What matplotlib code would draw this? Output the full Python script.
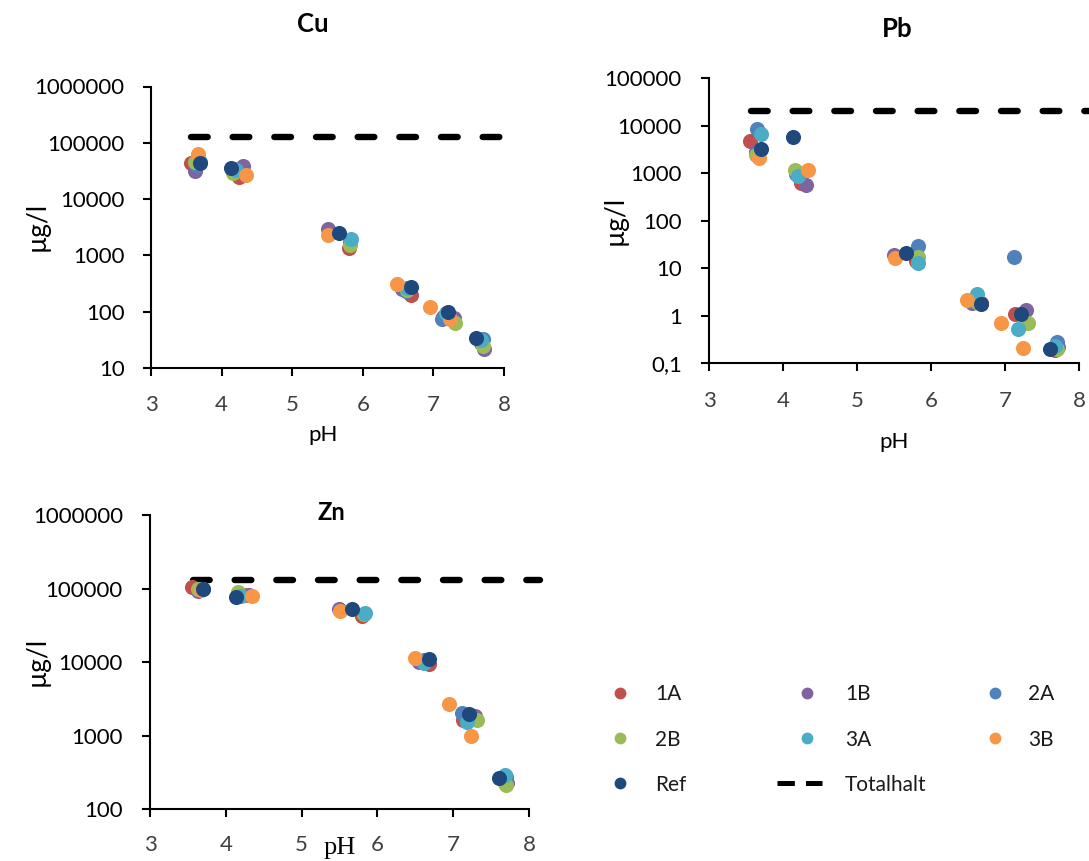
import matplotlib
matplotlib.use("Agg")
import matplotlib.pyplot as plt
from matplotlib.ticker import FixedLocator, FuncFormatter, NullLocator
from matplotlib.lines import Line2D

plt.rcParams["font.family"] = ["Lato", "DejaVu Sans"]
plt.rcParams["lines.scale_dashes"] = False

# ---- data -------------------------------------------------------------
series = ["1A", "1B", "2A", "2B", "3A", "3B", "Ref"]
colors = ["#C0504D", "#8064A2", "#4F81BD", "#9BBB59", "#4BACC6", "#F79646", "#1F497D"]

ph = {
    "1A": [3.56, 4.24, 5.80, 6.68, 7.13, 7.68],
    "1B": [3.63, 4.31, 5.50, 6.55, 7.29, 7.71],
    "2A": [3.65, 4.18, 5.82, 6.61, 7.12, 7.70],
    "2B": [3.63, 4.16, 5.82, 6.62, 7.31, 7.70],
    "3A": [3.70, 4.20, 5.83, 6.62, 7.18, 7.68],
    "3B": [3.67, 4.34, 5.51, 6.49, 6.95, 7.24],
    "Ref": [3.70, 4.14, 5.66, 6.68, 7.21, 7.61],
}

cu = {
    "1A": [43000, 24300, 1350, 197, 80, 28],
    "1B": [32000, 38500, 2930, 253, 76, 21.5],
    "2A": [40000, 34000, 1700, 232, 74, 33],
    "2B": [46000, 28600, 1510, 240, 64, 24.6],
    "3A": [45000, 33000, 1950, 260, 96, 31],
    "3B": [63000, 26700, 2290, 305, 122, 73],
    "Ref": [43000, 36000, 2460, 276, 100, 33.6],
}

pb = {
    "1A": [4830, 630, 14.4, 1.82, 1.07, 0.19],
    "1B": [2870, 570, 19.4, 1.9, 1.31, 0.22],
    "2A": [8500, 970, 29, 2.0, 17, 0.275],
    "2B": [2450, 1180, 17.4, 2.0, 0.69, 0.2],
    "3A": [6760, 895, 13, 2.86, 0.52, 0.23],
    "3B": [2090, 1180, 16.6, 2.14, 0.69, 0.21],
    "Ref": [3220, 5770, 21.4, 1.76, 1.07, 0.197],
}

zn = {
    "1A": [106000, 82000, 42500, 9400, 1650, 230],
    "1B": [94000, 83000, 53000, 10000, 1830, 225],
    "2A": [100000, 80000, 45000, 10700, 2040, 277],
    "2B": [100000, 91000, 45000, 10000, 1630, 213],
    "3A": [100000, 80000, 46200, 9660, 1520, 293],
    "3B": [96000, 79500, 50300, 11300, 2700, 1000],
    "Ref": [98000, 77000, 52900, 11000, 2000, 263],
}

# total content (Totalhalt) per metal, drawn across the pH range
total_ph = [3.57, 8.14]
total_cu = [128000, 128000]
total_pb = [20500, 20500]
total_zn = [130000, 130000]

cu_ticks = [10, 100, 1000, 10000, 100000, 1000000]
pb_ticks = [0.1, 1, 10, 100, 1000, 10000, 100000]
zn_ticks = [100, 1000, 10000, 100000, 1000000]
ph_ticks = [3, 4, 5, 6, 7, 8]

# ---- figure -----------------------------------------------------------
W, H = 1089, 861
fig = plt.figure(figsize=(W / 100, H / 100), dpi=100)


def rect(l, t, r, b):
    return [l / W, 1 - b / H, (r - l) / W, (b - t) / H]


def fmt_num(v, _pos=None):
    if v >= 1:
        return f"{int(round(v))}"
    return f"{v:g}".replace(".", ",")


def style_axes(ax, yticks, xpad, ypad):
    ax.set_yscale("log")
    ax.set_xlim(3, 8)
    ax.set_ylim(yticks[0], yticks[-1])
    ax.xaxis.set_major_locator(FixedLocator(ph_ticks))
    ax.yaxis.set_major_locator(FixedLocator(yticks))
    ax.yaxis.set_minor_locator(NullLocator())
    ax.xaxis.set_minor_locator(NullLocator())
    ax.yaxis.set_major_formatter(FuncFormatter(fmt_num))
    for s in ("top", "right"):
        ax.spines[s].set_visible(False)
    for s in ("left", "bottom"):
        ax.spines[s].set_linewidth(1.5)
        ax.spines[s].set_color("black")
    ax.tick_params(axis="both", direction="out", length=6, width=1.5, color="black")
    ax.tick_params(axis="x", labelsize=16, labelcolor="#404040", pad=xpad)
    ax.tick_params(axis="y", labelsize=16, labelcolor="black", pad=ypad)
    ax.patch.set_alpha(0)


def draw(ax, values, total):
    ax.plot(total_ph, total, color="black", lw=4.6, linestyle=(0, (12.0, 18.0)),
            dash_capstyle="round", solid_capstyle="round", clip_on=False, zorder=2)
    for i, (name, c) in enumerate(zip(series, colors)):
        ax.scatter(ph[name], values[name], s=118, color=c, linewidths=0,
                   zorder=3 + i, clip_on=False)


ax_cu = fig.add_axes(rect(151, 86.5, 504, 368))
draw(ax_cu, cu, total_cu)
style_axes(ax_cu, cu_ticks, xpad=13.5, ypad=13)

ax_pb = fig.add_axes(rect(709, 78.5, 1079, 363.3))
draw(ax_pb, pb, total_pb)
style_axes(ax_pb, pb_ticks, xpad=14.2, ypad=13.5)

ax_zn = fig.add_axes(rect(150, 515, 529, 809.3))
draw(ax_zn, zn, total_zn)
style_axes(ax_zn, zn_ticks, xpad=12.7, ypad=13.5)


def ftext(x, y, s, **kw):
    fig.text(x / W, 1 - y / H, s, **kw)


# titles
ftext(313, 31.7, "Cu", ha="center", va="baseline", fontsize=18.5, fontweight="bold")
ftext(897, 36.7, "Pb", ha="center", va="baseline", fontsize=18.5, fontweight="bold")
ftext(331, 520, "Zn", ha="center", va="baseline", fontsize=17, fontweight="bold")

# axis labels
for (x, y) in [(37, 226), (615, 220), (37, 661)]:
    ftext(x, y, "µg/l", ha="center", va="center", rotation=90, fontsize=19)
ftext(323, 441, "pH", ha="center", va="baseline", fontsize=16)
ftext(894, 448, "pH", ha="center", va="baseline", fontsize=16)
ftext(340, 854, "pH", ha="center", va="baseline", fontsize=19,
      family=["Liberation Serif", "DejaVu Serif"])

# legend, three columns filled row by row
legend_rows = [692.7, 738.3, 783.3]
legend_marker_x = [620, 807, 995]
legend_text_x = [655, 845, 1028]
entries = list(zip(series, colors)) + [("Totalhalt", None)]
for k, (name, c) in enumerate(entries):
    r, col = divmod(k, 3)
    y = 1 - legend_rows[r] / H
    if c is not None:
        fig.add_artist(Line2D([legend_marker_x[col] / W], [y], transform=fig.transFigure,
                              marker="o", markersize=8.5, color=c, markeredgewidth=0,
                              linestyle="none"))
    else:
        fig.add_artist(Line2D([777 / W, 822 / W], [y, y], transform=fig.transFigure,
                              color="black", lw=3.6, linestyle=(0, (12.5, 8.0)),
                              dash_capstyle="butt"))
    ftext(legend_text_x[col], legend_rows[r] + 7.5, name, ha="left", va="baseline",
          fontsize=15, color="#1a1a1a")

fig.savefig("out.png", dpi=100)
